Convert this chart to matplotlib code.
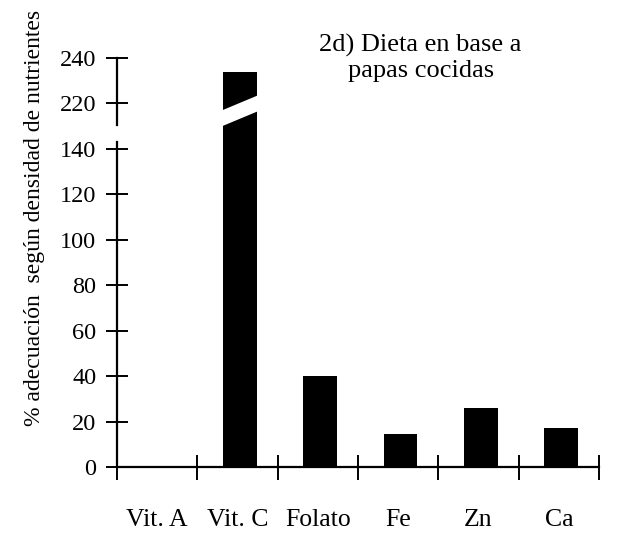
import numpy as np
import matplotlib
matplotlib.use("Agg")
import matplotlib.pyplot as plt
from matplotlib.patches import Polygon

categories = ["Vit. A", "Vit. C", "Folato", "Fe", "Zn", "Ca"]
adequacy = [0, 234, 40, 14.5, 26, 17]
yticks = [0, 20, 40, 60, 80, 100, 120, 140, 220, 240]
title = "2d) Dieta en base a\npapas cocidas"
ylabel = "% adecuación  según densidad de nutrientes"

plt.rcParams['font.family'] = ['Liberation Serif', 'DejaVu Serif']


# broken y axis: 145..215 squeezed into 145..155
def forward(v):
    v = np.asarray(v, dtype=float)
    return np.where(v <= 145, v, np.where(v >= 215, v - 60, 145 + (v - 145) / 7.0))


def inverse(d):
    d = np.asarray(d, dtype=float)
    return np.where(d <= 145, d, np.where(d >= 155, d + 60, 145 + (d - 145) * 7.0))


fig = plt.figure(figsize=(6.28, 5.37), dpi=100)
ax = fig.add_axes([0.1863, 0.1304, 0.7675, 0.7616])
ax.set_yscale('function', functions=(forward, inverse))

x = np.arange(len(categories))
bars = ax.bar(x + 0.03, adequacy, width=0.42, color='black', zorder=2)

# white diagonal break across the tall bar
b = bars[1]
x0, x1 = b.get_x() - 0.01, b.get_x() + b.get_width() + 0.01
ax.add_patch(Polygon([(x0, 180), (x1, 216.5), (x1, 223.5), (x0, 217)],
                     closed=True, facecolor='white', edgecolor='none', zorder=3))

ax.set_xlim(-0.5, len(categories) - 0.5)
ax.set_ylim(0, 240)

for s in ['top', 'right', 'left']:
    ax.spines[s].set_visible(False)
ax.spines['bottom'].set_linewidth(1.6)

# y axis line drawn in two pieces
ax.plot([-0.5, -0.5], [0, 143], color='black', lw=1.6, clip_on=False, zorder=4)
ax.plot([-0.5, -0.5], [185, 240], color='black', lw=1.6, clip_on=False, zorder=4)

ax.set_yticks(yticks)
ax.set_yticklabels([str(t) for t in yticks])
ax.tick_params(axis='y', direction='inout', length=16, width=1.4, labelsize=17.5, pad=7)

ax.set_xticks(np.arange(len(categories) + 1) - 0.5)
ax.set_xticklabels([])
ax.tick_params(axis='x', direction='inout', length=18, width=1.4)
for i, c in enumerate(categories):
    ax.text(i, -0.13, c, transform=ax.get_xaxis_transform(), ha='center', va='center',
            fontsize=18.5)

ax.set_ylabel(ylabel, fontsize=17)
ax.yaxis.set_label_coords(-0.15, 0.61)
ax.text(0.63, 1.0, title, transform=ax.transAxes, ha='center', va='center',
        fontsize=19, linespacing=1.15)

fig.savefig("out.png", dpi=100)
